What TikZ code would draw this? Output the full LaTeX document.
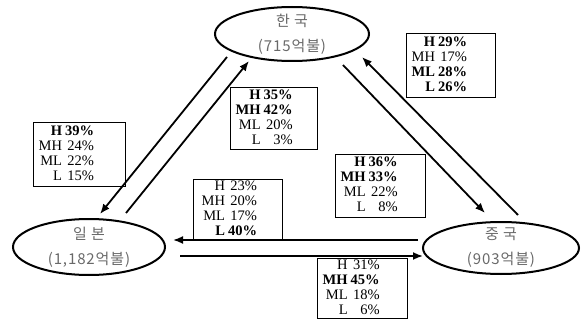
\documentclass[tikz,border=0pt]{standalone}
\usepackage{fontspec}
\setmainfont{Liberation Serif}
\newfontfamily\kor[LetterSpace=6]{Noto Sans CJK KR}
\usetikzlibrary{shapes.geometric, arrows.meta, positioning}
\definecolor{inkgray}{RGB}{105,105,105}

\begin{document}
\begin{tikzpicture}[x=1pt, y=-1pt,
  country/.style={draw, ellipse, line width=2pt, inner sep=0pt},
  countrytext/.style={font=\kor\fontsize{15}{25}\selectfont, inkgray, align=center},
  sharebox/.style={draw, line width=1.4pt, anchor=north west, inner xsep=5pt, inner ysep=0pt,
    text width=80pt, minimum height=63pt, align=left, font=\fontsize{14.5}{15}\selectfont},
  flow/.style={line width=1.8pt, -{Latex[length=10pt,width=8pt]}}]
  \useasboundingbox (0,0) rectangle (582,321);

  % ===== 국가 =====
  \node[country, minimum width=154pt, minimum height=54pt] (kor) at (292,34) {};
  \node[countrytext] (kortxt) at (kor) {한 국\\(715억불)};

  \node[country, minimum width=152pt, minimum height=56pt] (jpn) at (89,247) {};
  \node[countrytext] (jpntxt) at (jpn) {일 본\\(1,182억불)};

  \node[country, minimum width=156pt, minimum height=52pt] (chn) at (501,248) {};
  \node[countrytext] (chntxt) at (chn) {중 국\\(903억불)};

  % ===== 화살표 끝점 =====
  \coordinate (kj1) at (227,57);  \coordinate (kj2) at (100,214);
  \coordinate (jk1) at (126,213); \coordinate (jk2) at (249,61);
  \coordinate (kc1) at (343,65);  \coordinate (kc2) at (485,213);
  \coordinate (ck1) at (518,215); \coordinate (ck2) at (362,57);
  \coordinate (cj1) at (418,240); \coordinate (cj2) at (173,240);
  \coordinate (jc1) at (180,256); \coordinate (jc2) at (423,256);

  \draw[flow] (kj1) -- (kj2);
  \draw[flow] (jk1) -- (jk2);
  \draw[flow] (kc1) -- (kc2);
  \draw[flow] (ck1) -- (ck2);
  \draw[flow] (cj1) -- (cj2);
  \draw[flow] (jc1) -- (jc2);

  % ===== 비중 =====
  \node[sharebox, text width=82pt, minimum height=64pt] (kjshare) at (33,122) {%
    \begin{tabular}{@{}r@{\hspace{3pt}}r@{}}
      \textbf{H} & \textbf{39\%}\\ MH & 24\%\\ ML & 22\%\\ L & 15\%
    \end{tabular}};

  \node[sharebox, text width=77pt, minimum height=62pt] (jkshare) at (230,87) {%
    \begin{tabular}{@{}r@{\hspace{3pt}}r@{}}
      \textbf{H} & \textbf{35\%}\\ \textbf{MH} & \textbf{42\%}\\ ML & 20\%\\ L & 3\%
    \end{tabular}};

  \node[sharebox, text width=79pt, minimum height=64pt] (ckshare) at (406,33) {%
    \begin{tabular}{@{}r@{\hspace{3pt}}r@{}}
      \textbf{H} & \textbf{29\%}\\ MH & 17\%\\ \textbf{ML} & \textbf{28\%}\\ \textbf{L} & \textbf{26\%}
    \end{tabular}};

  \node[sharebox] (kcshare) at (335,154) {%
    \begin{tabular}{@{}r@{\hspace{3pt}}r@{}}
      \textbf{H} & \textbf{36\%}\\ \textbf{MH} & \textbf{33\%}\\ ML & 22\%\\ L & 8\%
    \end{tabular}};

  \node[sharebox, inner xsep=8pt, text width=73pt, minimum height=61pt] (cjshare) at (193,179) {%
    \begin{tabular}{@{}r@{\hspace{3pt}}r@{}}
      H & 23\%\\ MH & 20\%\\ ML & 17\%\\ \textbf{L} & \textbf{40\%}
    \end{tabular}};

  \node[sharebox, minimum height=59pt] (jcshare) at (317,258) {%
    \begin{tabular}{@{}r@{\hspace{3pt}}r@{}}
      H & 31\%\\ \textbf{MH} & \textbf{45\%}\\ ML & 18\%\\ L & 6\%
    \end{tabular}};
\end{tikzpicture}
\end{document}
